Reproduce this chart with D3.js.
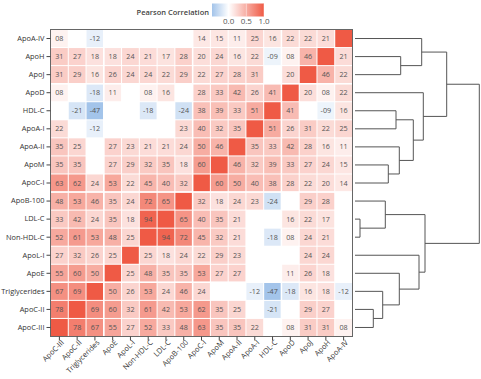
<!DOCTYPE html>
<html>
<head>
<meta charset="utf-8">
<script src="https://cdn.jsdelivr.net/npm/d3@7"></script>
<style>
  html, body { margin: 0; padding: 0; background: #fff; }
  svg { display: block; font-family: "Open Sans", "Noto Sans", sans-serif; }
</style>
</head>
<body>
<svg id="chart" width="481" height="379"></svg>
<script>
// Row labels (top to bottom)
const rowLabels = ["ApoA-IV","ApoH","ApoJ","ApoD","HDL-C","ApoA-I","ApoA-II","ApoM","ApoC-I",
  "ApoB-100","LDL-C","Non-HDL-C","ApoL-I","ApoE","Triglycerides","ApoC-II","ApoC-III"];
// Column labels (left to right)
const colLabels = ["ApoC-III","ApoC-II","Triglycerides","ApoE","ApoL-I","Non-HDL-C","LDL-C","ApoB-100",
  "ApoC-I","ApoM","ApoA-II","ApoA-I","HDL-C","ApoD","ApoJ","ApoH","ApoA-IV"];
// Pearson correlation x100 (rows top->bottom, cols left->right); null = not shown
const correlations = [
  [8, null, -12, null, null, null, null, null, 14, 15, 11, 25, 16, 22, 22, 21, 100],
  [31, 27, 18, 18, 24, 21, 17, 28, 20, 24, 16, 22, -9, 8, 46, 100, 21],
  [31, 29, 16, 26, 24, 24, 22, 29, 22, 27, 28, 31, null, 20, 100, 46, 22],
  [8, null, -18, 11, null, 8, 16, null, 28, 33, 42, 26, 41, 100, 20, 8, 22],
  [null, -21, -47, null, null, -18, null, -24, 38, 39, 33, 51, 100, 41, null, -9, 16],
  [22, null, -12, null, null, null, null, 23, 40, 32, 35, 100, 51, 26, 31, 22, 25],
  [35, 25, null, 27, 23, 21, 21, 24, 50, 46, 100, 35, 33, 42, 28, 16, 11],
  [35, 35, null, 27, 29, 32, 35, 18, 60, 100, 46, 32, 39, 33, 27, 24, 15],
  [63, 62, 24, 53, 22, 45, 40, 32, 100, 60, 50, 40, 38, 28, 22, 20, 14],
  [48, 53, 46, 35, 24, 72, 65, 100, 32, 18, 24, 23, -24, null, 29, 28, null],
  [33, 42, 24, 35, 18, 94, 100, 65, 40, 35, 21, null, null, 16, 22, 17, null],
  [52, 61, 53, 48, 25, 100, 94, 72, 45, 32, 21, null, -18, 8, 24, 21, null],
  [27, 32, 26, 25, 100, 25, 18, 24, 22, 29, 23, null, null, null, 24, 24, null],
  [55, 60, 50, 100, 25, 48, 35, 35, 53, 27, 27, null, null, 11, 26, 18, null],
  [67, 69, 100, 50, 26, 53, 24, 46, 24, null, null, -12, -47, -18, 16, 18, -12],
  [78, 100, 69, 60, 32, 61, 42, 53, 62, 35, 25, null, -21, null, 29, 27, null],
  [100, 78, 67, 55, 27, 52, 33, 48, 63, 35, 35, 22, null, 8, 31, 31, 8]
];
// Hierarchical clustering merges: [a, b, height]; "#k" refers to merge k
const dendroMerges = [
  ["LDL-C", "Non-HDL-C", 0.05],
  ["ApoC-II", "ApoC-III", 0.183],
  ["Triglycerides", "#1", 0.277],
  ["ApoB-100", "#0", 0.303],
  ["ApoM", "ApoC-I", 0.333],
  ["HDL-C", "ApoA-I", 0.41],
  ["ApoA-II", "#4", 0.443],
  ["ApoE", "#2", 0.443],
  ["ApoH", "ApoJ", 0.457],
  ["#5", "#6", 0.583],
  ["ApoL-I", "#7", 0.64],
  ["ApoA-IV", "#8", 0.667],
  ["ApoD", "#9", 0.683],
  ["#10", "#3", 0.70],
  ["#11", "#12", 0.917],
  ["#14", "#13", 1.243]
];
const legendTicks = [0, 0.5, 1];
const colorDomain = [-0.47, 0, 1];

const svg = d3.select("#chart");
const mLeft = 50.5, mRight = 352.5, mTop = 29.5, mBottom = 336.5;

const x = d3.scaleBand().domain(colLabels).range([mLeft, mRight]);
const y = d3.scaleBand().domain(rowLabels).range([mTop, mBottom]);
const color = d3.scaleLinear().domain(colorDomain).range(["#a3c4ea", "#ffffff", "#ef5a45"]).clamp(true);

const cells = [];
correlations.forEach((row, i) => row.forEach((v, j) => {
  if (v !== null) cells.push({r: rowLabels[i], c: colLabels[j], v: v});
}));

const g = svg.append("g");
g.selectAll("rect.cell").data(cells).join("rect")
  .attr("class", "cell")
  .attr("x", d => x(d.c) + 0.5)
  .attr("y", d => y(d.r) + 0.5)
  .attr("width", x.bandwidth() - 1)
  .attr("height", y.bandwidth() - 1)
  .attr("fill", d => color(d.v / 100));

const fmt = v => (v < 0 ? "-" : "") + String(Math.abs(v)).padStart(2, "0");
g.selectAll("text.val").data(cells.filter(d => d.v !== 100)).join("text")
  .attr("class", "val")
  .attr("x", d => x(d.c) + x.bandwidth() / 2)
  .attr("y", d => y(d.r) + y.bandwidth() / 2)
  .attr("dy", "0.35em")
  .attr("text-anchor", "middle")
  .attr("font-size", "7.2px")
  .attr("fill", "#555")
  .text(d => fmt(d.v));

// cluster separators
const colBreaks = ["Triglycerides", "ApoB-100", "HDL-C"];
const rowBreaks = ["ApoJ", "ApoC-I", "ApoE"];
colBreaks.forEach(c => {
  const xx = x(c) + x.bandwidth();
  g.append("line").attr("x1", xx).attr("x2", xx).attr("y1", mTop).attr("y2", mBottom)
    .attr("stroke", "#fff").attr("stroke-width", 1.5);
});
rowBreaks.forEach(r => {
  const yy = y(r) + y.bandwidth();
  g.append("line").attr("x1", mLeft).attr("x2", mRight).attr("y1", yy).attr("y2", yy)
    .attr("stroke", "#fff").attr("stroke-width", 1.5);
});

// frame
svg.append("rect").attr("x", mLeft).attr("y", mTop)
  .attr("width", mRight - mLeft).attr("height", mBottom - mTop)
  .attr("fill", "none").attr("stroke", "#666").attr("stroke-width", 1);

// axes
const yAxis = svg.append("g").attr("transform", `translate(${mLeft},0)`)
  .call(d3.axisLeft(y).tickSize(4).tickPadding(2));
yAxis.select(".domain").remove();
yAxis.selectAll("line").attr("stroke", "#444");
yAxis.selectAll("text").attr("font-size", "7.4px").attr("fill", "#333")
  .attr("font-family", "'Open Sans', sans-serif");

const xAxis = svg.append("g").attr("transform", `translate(0,${mBottom})`)
  .call(d3.axisBottom(x).tickSize(4).tickPadding(2));
xAxis.select(".domain").remove();
xAxis.selectAll("line").attr("stroke", "#444");
xAxis.selectAll("text").attr("font-size", "7.4px").attr("fill", "#333")
  .attr("font-family", "'Open Sans', sans-serif")
  .attr("text-anchor", "end")
  .attr("transform", "translate(4,4) rotate(-45)")
  .attr("dy", "0.35em").attr("y", 0).attr("x", -1);

// dendrogram
const leafX = 355;
const hx = d3.scaleLinear().domain([0, 1]).range([leafX, leafX + 100]);
const nodes = [];
const pos = name => {
  if (name.startsWith("#")) return nodes[+name.slice(1)];
  return {x: leafX, y: y(name) + y.bandwidth() / 2};
};
const dg = svg.append("g").attr("fill", "none").attr("stroke", "#555").attr("stroke-width", 1);
dendroMerges.forEach(([a, b, h]) => {
  const pa = pos(a), pb = pos(b), xh = hx(h);
  dg.append("path").attr("d", `M${pa.x},${pa.y}H${xh}V${pb.y}H${pb.x}`);
  nodes.push({x: xh, y: (pa.y + pb.y) / 2});
});

// legend
const lx = d3.scaleLinear().domain([colorDomain[0], colorDomain[2]]).range([212, 264]);
const defs = svg.append("defs");
const grad = defs.append("linearGradient").attr("id", "lg");
colorDomain.forEach(v => grad.append("stop")
  .attr("offset", ((lx(v) - 212) / 52 * 100) + "%").attr("stop-color", color(v)));
svg.append("rect").attr("x", 212).attr("y", 3.5).attr("width", 52).attr("height", 13)
  .attr("fill", "url(#lg)");
svg.append("g").selectAll("line").data(legendTicks).join("line")
  .attr("x1", d => lx(d)).attr("x2", d => lx(d)).attr("y1", 3.5).attr("y2", 16.5)
  .attr("stroke", "#fff").attr("stroke-width", 0.8).attr("opacity", 0.6);
svg.append("g").selectAll("text").data(legendTicks).join("text")
  .attr("x", d => lx(d)).attr("y", 24)
  .attr("text-anchor", "middle").attr("font-size", "8px").attr("fill", "#555")
  .text(d => d3.format(".1f")(d));
svg.append("text").attr("x", 209).attr("y", 15).attr("text-anchor", "end")
  .attr("font-size", "7.5px").attr("font-weight", 600).attr("fill", "#444")
  .text("Pearson Correlation");
</script>
</body>
</html>
